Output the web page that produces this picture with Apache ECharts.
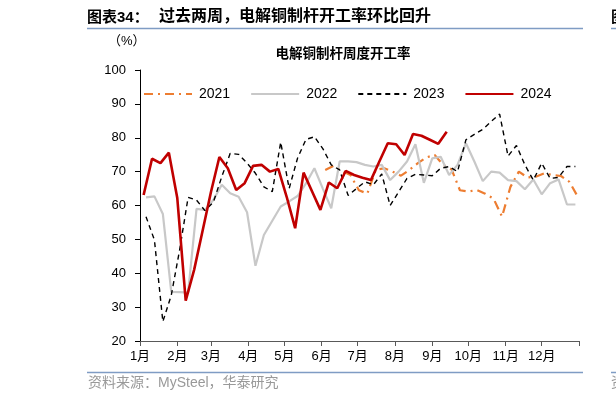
<!DOCTYPE html>
<html>
<head>
<meta charset="utf-8">
<script src="https://cdn.jsdelivr.net/npm/echarts@6/dist/echarts.min.js"></script>
<style>
  html, body { margin: 0; padding: 0; background: #fff; }
  #chart { width: 616px; height: 402px; }
</style>
</head>
<body>
<div id="chart"></div>
<script>
  // 每年周度数据（开工率 %），首个数据日期 + 每周一个点
  const years = ['2021', '2022', '2023', '2024']
  const startDates = ['2021-06-04', '2022-01-06', '2023-01-06', '2024-01-04']

  const rate2021 = [70.5, 71.7, 70.2, 69.0, 64.5, 63.5, 70.5, 71.0, 70.0, 68.8, 70.5, 72.5, 74.2, 74.9, 72.0, 70.7,
    64.5, 64.1, 64.6, 63.5, 62.0, 56.7, 65.5, 70.0, 68.3, 68.5, 69.5, 69.0, 68.7, 67.0, 62.6]
  const rate2022 = [62.4, 62.7, 57.5, 34.5, 34.4, 34.3, 59.0, 58.7, 61.6, 66.1, 63.6, 62.6, 58.0, 42.2, 51.3, 55.5,
    59.7, 61.2, 62.8, 66.5, 71.0, 65.0, 59.2, 73.0, 73.0, 72.8, 72.0, 71.5, 72.0, 67.5, 70.0, 73.0,
    78.1, 66.7, 73.9, 74.4, 69.0, 72.0, 78.4, 73.0, 67.2, 70.0, 69.7, 67.5, 67.2, 64.8, 67.7, 63.3,
    66.6, 67.7, 60.3, 60.3]
  const rate2023 = [56.7, 49.8, 25.7, 33.5, 47.0, 62.4, 61.6, 58.5, 61.0, 68.5, 75.4, 75.1, 72.5, 69.5, 65.5, 64.1,
    78.7, 65.0, 74.0, 79.5, 80.3, 76.8, 72.0, 70.5, 63.0, 65.0, 67.0, 66.1, 69.3, 60.0, 64.0, 68.0,
    69.2, 69.0, 68.8, 71.0, 71.5, 70.0, 79.4, 81.0, 82.5, 84.8, 87.0, 74.6, 77.7, 72.0, 67.5, 72.5,
    68.0, 68.3, 71.5, 71.5]
  const rate2024 = [63.1, 73.8, 72.5, 75.6, 62.2, 31.9, 41.0, 52.5, 64.0, 74.3, 71.0, 64.6, 66.6, 71.7, 72.0, 70.0,
    70.8, 62.5, 53.3, 69.7, 64.2, 58.7, 66.8, 65.1, 70.2, 69.0, 68.2, 67.5, 73.0, 78.4, 78.1, 74.9,
    81.1, 80.6, 79.4, 78.2, 81.8]

  // 每月1日在一年中的天数，用作x轴刻度
  const monthStarts = [0, 31, 59, 90, 120, 151, 181, 212, 243, 273, 304, 334, 365]
  const monthLabels = ['1月', '2月', '3月', '4月', '5月', '6月', '7月', '8月', '9月', '10月', '11月', '12月']

  const font = '"Liberation Sans", "Noto Sans CJK SC", sans-serif'
  const DAY = 86400000

  // 把周度数据转换为 [年内天数, 值]
  const toPoints = (start, values) => {
    const d0 = new Date(start + 'T00:00:00Z')
    const jan1 = Date.UTC(d0.getUTCFullYear(), 0, 1)
    return values.map((v, i) => [Math.round((d0.getTime() + i * 7 * DAY - jan1) / DAY), v])
  }

  const styles = [
    { color: '#ED7D31', width: 2.2, type: [9, 5, 2, 5] },
    { color: '#C8C8C8', width: 2.2, type: 'solid' },
    { color: '#000000', width: 1.4, type: [5, 4] },
    { color: '#C00000', width: 2.6, type: 'solid' }
  ]
  const allRates = [rate2021, rate2022, rate2023, rate2024]

  const chart = echarts.init(document.getElementById('chart'), null, { renderer: 'canvas' })

  const option = {
    backgroundColor: '#fff',
    animation: false,
    textStyle: { fontFamily: font },
    grid: { left: 140, right: 37, top: 70, bottom: 61 },
    legend: {
      left: 138,
      top: 82,
      itemWidth: 48,
      itemHeight: 12,
      itemGap: 20,
      itemStyle: { opacity: 0 },
      textStyle: { fontSize: 14, color: '#000', fontFamily: font, padding: [0, 0, 0, 2] },
      data: years
    },
    graphic: [
      { type: 'text', left: 87, top: 10, style: { text: '图表34：', font: 'bold 15px ' + font, fill: '#000' } },
      { type: 'text', left: 159, top: 9, style: { text: '过去两周，电解铜制杆开工率环比回升', font: 'bold 16px ' + font, fill: '#000' } },
      { type: 'line', shape: { x1: 87, y1: 28.5, x2: 583, y2: 28.5 }, style: { stroke: '#7F9CC4', lineWidth: 1.5 } },
      { type: 'text', left: 611, top: 10, style: { text: '图表', font: 'bold 15px ' + font, fill: '#000' } },
      { type: 'line', shape: { x1: 611, y1: 28.5, x2: 616, y2: 28.5 }, style: { stroke: '#7F9CC4', lineWidth: 1.5 } },
      { type: 'text', left: 108, top: 35, style: { text: '（%）', font: '13px ' + font, fill: '#000' } },
      { type: 'text', x: 343, y: 48, style: { text: '电解铜制杆周度开工率', font: 'bold 13.5px ' + font, fill: '#000', align: 'center' } },
      { type: 'line', shape: { x1: 87, y1: 372.5, x2: 583, y2: 372.5 }, style: { stroke: '#7F9CC4', lineWidth: 1.5 } },
      { type: 'line', shape: { x1: 611, y1: 372.5, x2: 616, y2: 372.5 }, style: { stroke: '#7F9CC4', lineWidth: 1.5 } },
      { type: 'text', left: 88, top: 376, style: { text: '资料来源：MySteel，华泰研究', font: '14px ' + font, fill: '#999999' } },
      { type: 'text', left: 611, top: 376, style: { text: '资料', font: '14px ' + font, fill: '#999999' } }
    ],
    xAxis: {
      type: 'value',
      min: 0,
      max: 365,
      splitLine: { show: false },
      axisLine: { lineStyle: { color: '#595959', width: 1 } },
      axisTick: { show: true, length: 5, lineStyle: { color: '#595959' }, customValues: monthStarts },
      axisLabel: {
        customValues: monthStarts.slice(0, 12),
        formatter: (v) => monthLabels[monthStarts.indexOf(v)],
        fontSize: 13,
        color: '#000',
        margin: 9
      }
    },
    yAxis: {
      type: 'value',
      min: 20,
      max: 100,
      interval: 10,
      splitLine: { show: false },
      axisLine: { show: true, lineStyle: { color: '#000', width: 1 } },
      axisTick: { show: true, length: 5, lineStyle: { color: '#000' } },
      axisLabel: { fontSize: 13, color: '#000', margin: 14 }
    },
    series: years.map((name, k) => ({
      name: name,
      type: 'line',
      symbol: 'none',
      z: 2 + k,
      color: styles[k].color,
      lineStyle: { color: styles[k].color, width: styles[k].width, type: styles[k].type },
      data: toPoints(startDates[k], allRates[k])
    }))
  }

  chart.setOption(option)
</script>
</body>
</html>
